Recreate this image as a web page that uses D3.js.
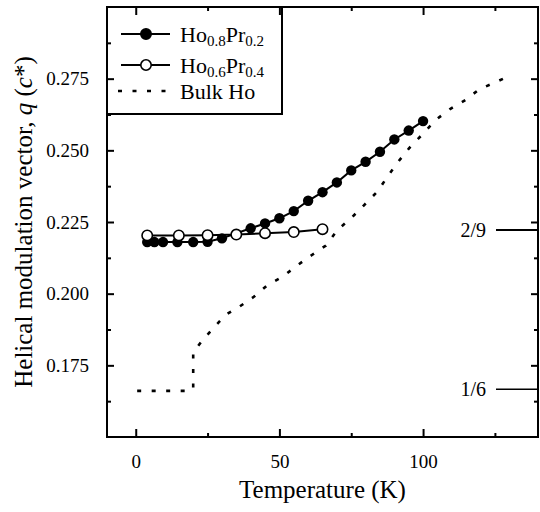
<!DOCTYPE html>
<html>
<head>
<meta charset="utf-8">
<script src="https://cdn.jsdelivr.net/npm/d3@7"></script>
<style>
  html, body { margin: 0; padding: 0; background: #fff; }
  svg { display: block; }
  svg text { font-family: "Liberation Serif", "Times New Roman", "DejaVu Serif", serif; fill: #000; }
</style>
</head>
<body>
<svg id="chart" width="540" height="512"></svg>
<script>
// ---- data ----
const tHoPr02 = [4, 6.5, 9.5, 14.5, 20, 25, 30, 40, 45, 50, 55, 60, 65, 70, 75, 80, 85, 90, 95, 100];
const qHoPr02 = [0.2180, 0.2180, 0.2180, 0.2180, 0.2180, 0.2181, 0.2193, 0.2228, 0.2245, 0.2263, 0.2288, 0.2324, 0.2354, 0.2388, 0.2430, 0.2460, 0.2495, 0.2538, 0.2569, 0.2602];

const tHoPr04 = [4, 15, 25, 35, 45, 55, 65];
const qHoPr04 = [0.2203, 0.2203, 0.2204, 0.2206, 0.2211, 0.2215, 0.2225];

const tBulk = [0.5, 19, 20, 20, 22.8, 26.9, 31.3, 36.1, 41.1, 45.9, 51.1, 56.4, 61.3, 66.2, 70.2, 74.9, 79.5, 84.1, 87.6, 91.1, 95.1, 99.8, 104.4, 109.4, 114.8, 119.7, 124.7, 130.5];
const qBulk = [0.1661, 0.1661, 0.1668, 0.1795, 0.1832, 0.1879, 0.1926, 0.1955, 0.1989, 0.2030, 0.2059, 0.2100, 0.2135, 0.2168, 0.2222, 0.2263, 0.2309, 0.2356, 0.2408, 0.2457, 0.2507, 0.2556, 0.2606, 0.2644, 0.2676, 0.2714, 0.2735, 0.2762];

const xMajorTicks = [0, 50, 100];
const xMinorTicks = [25, 75, 125];
const yMajorTicks = [0.175, 0.200, 0.225, 0.250, 0.275];
const yMinorTicks = [0.1625, 0.1875, 0.2125, 0.2375, 0.2625, 0.2875];
const refValues = [2 / 9, 1 / 6];
const refLabels = ["2/9", "1/6"];

// ---- layout ----
const L = 107, R = 538, T = 7, B = 437;
const svg = d3.select("#chart");
const x = d3.scaleLinear().domain([-10, 140]).range([L, R]);
const y = d3.scaleLinear().domain([0.15, 0.30]).range([B, T]);

// legend box (drawn first so ticks show over it)
const lg = svg.append("g");
lg.append("rect").attr("x", L).attr("y", T).attr("width", 175).attr("height", 107)
  .attr("fill", "#fff").attr("stroke", "#000").attr("stroke-width", 2);

function styleAxis(g) {
  g.select(".domain").remove();
  g.selectAll(".tick line").attr("stroke", "#000").attr("stroke-width", 2);
  g.selectAll(".tick text").attr("font-size", 19).attr("fill", "#000");
}

// bottom
svg.append("g").attr("transform", `translate(0,${B})`)
  .call(d3.axisBottom(x).tickValues(xMajorTicks).tickSize(-8).tickPadding(18).tickFormat(d3.format("d")))
  .call(styleAxis);
svg.append("g").attr("transform", `translate(0,${B})`)
  .call(d3.axisBottom(x).tickValues(xMinorTicks).tickSize(-4).tickFormat(""))
  .call(styleAxis);
// top
svg.append("g").attr("transform", `translate(0,${T})`)
  .call(d3.axisTop(x).tickValues(xMajorTicks).tickSize(-8).tickFormat(""))
  .call(styleAxis);
svg.append("g").attr("transform", `translate(0,${T})`)
  .call(d3.axisTop(x).tickValues(xMinorTicks).tickSize(-4).tickFormat(""))
  .call(styleAxis);
// left
svg.append("g").attr("transform", `translate(${L},0)`)
  .call(d3.axisLeft(y).tickValues(yMajorTicks).tickSize(-7).tickPadding(18).tickFormat(d3.format(".3f")))
  .call(styleAxis);
svg.append("g").attr("transform", `translate(${L},0)`)
  .call(d3.axisLeft(y).tickValues(yMinorTicks).tickSize(-4).tickFormat(""))
  .call(styleAxis);
// right
svg.append("g").attr("transform", `translate(${R},0)`)
  .call(d3.axisRight(y).tickValues(yMajorTicks).tickSize(-7).tickFormat(""))
  .call(styleAxis);
svg.append("g").attr("transform", `translate(${R},0)`)
  .call(d3.axisRight(y).tickValues(yMinorTicks).tickSize(-4).tickFormat(""))
  .call(styleAxis);

// frame
svg.append("rect").attr("x", L).attr("y", T).attr("width", R - L).attr("height", B - T)
  .attr("fill", "none").attr("stroke", "#000").attr("stroke-width", 2);

// reference lines 2/9, 1/6
refValues.forEach((v, i) => {
  svg.append("line").attr("x1", R - 42).attr("x2", R).attr("y1", y(v)).attr("y2", y(v))
    .attr("stroke", "#000").attr("stroke-width", i === 0 ? 2 : 1.5);
  svg.append("text").attr("x", R - 52).attr("y", y(v)).attr("dy", "0.35em")
    .attr("text-anchor", "end").attr("font-size", 20).text(refLabels[i]);
});

// bulk Ho dotted
const bulk = tBulk.map((t, i) => [t, qBulk[i]]);
const line = d3.line().x(d => x(d[0])).y(d => y(d[1]));
svg.append("path").datum(bulk).attr("d", line)
  .attr("fill", "none").attr("stroke", "#000").attr("stroke-width", 2.6)
  .attr("stroke-dasharray", "4,10.5");

// Ho0.8Pr0.2 filled
const s1 = tHoPr02.map((t, i) => [t, qHoPr02[i]]);
svg.append("path").datum(s1).attr("d", line)
  .attr("fill", "none").attr("stroke", "#000").attr("stroke-width", 2);
svg.append("g").selectAll("circle").data(s1).join("circle")
  .attr("cx", d => x(d[0])).attr("cy", d => y(d[1])).attr("r", 5.2).attr("fill", "#000");

// Ho0.6Pr0.4 open
const s2 = tHoPr04.map((t, i) => [t, qHoPr04[i]]);
svg.append("path").datum(s2).attr("d", line)
  .attr("fill", "none").attr("stroke", "#000").attr("stroke-width", 2);
svg.append("g").selectAll("circle").data(s2).join("circle")
  .attr("cx", d => x(d[0])).attr("cy", d => y(d[1])).attr("r", 5.2)
  .attr("fill", "#fff").attr("stroke", "#000").attr("stroke-width", 1.6);

// legend entries
const legendRows = [
  { y: 34, type: "filled", main: ["Ho", "Pr"], sub: ["0.8", "0.2"] },
  { y: 65, type: "open", main: ["Ho", "Pr"], sub: ["0.6", "0.4"] },
  { y: 91, type: "dotted", label: "Bulk Ho" }
];
legendRows.forEach(r => {
  if (r.type === "dotted") {
    lg.append("line").attr("x1", 118).attr("x2", 170).attr("y1", r.y).attr("y2", r.y)
      .attr("stroke", "#000").attr("stroke-width", 2.6).attr("stroke-dasharray", "4,10.5");
    lg.append("text").attr("x", 180).attr("y", r.y).attr("dy", "0.35em").attr("font-size", 22).text(r.label);
  } else {
    lg.append("line").attr("x1", 121).attr("x2", 170).attr("y1", r.y).attr("y2", r.y)
      .attr("stroke", "#000").attr("stroke-width", 2);
    lg.append("circle").attr("cx", 146).attr("cy", r.y).attr("r", 5.2)
      .attr("fill", r.type === "filled" ? "#000" : "#fff").attr("stroke", "#000").attr("stroke-width", 1.6);
    const t = lg.append("text").attr("x", 180).attr("y", r.y).attr("dy", "0.35em").attr("font-size", 22);
    t.append("tspan").text(r.main[0]);
    t.append("tspan").attr("font-size", 15).attr("dy", 4).text(r.sub[0]);
    t.append("tspan").attr("dy", -4).text(r.main[1]);
    t.append("tspan").attr("font-size", 15).attr("dy", 4).text(r.sub[1]);
  }
});

// axis titles
svg.append("text").attr("x", (L + R) / 2).attr("y", 498).attr("text-anchor", "middle")
  .attr("font-size", 25).text("Temperature (K)");
const yt = svg.append("text").attr("transform", `translate(32,${(T + B) / 2}) rotate(-90)`)
  .attr("text-anchor", "middle").attr("font-size", 25);
yt.append("tspan").text("Helical modulation vector, ");
yt.append("tspan").attr("font-style", "italic").text("q");
yt.append("tspan").text(" (");
yt.append("tspan").attr("font-style", "italic").text("c");
yt.append("tspan").text("*)");
</script>
</body>
</html>
